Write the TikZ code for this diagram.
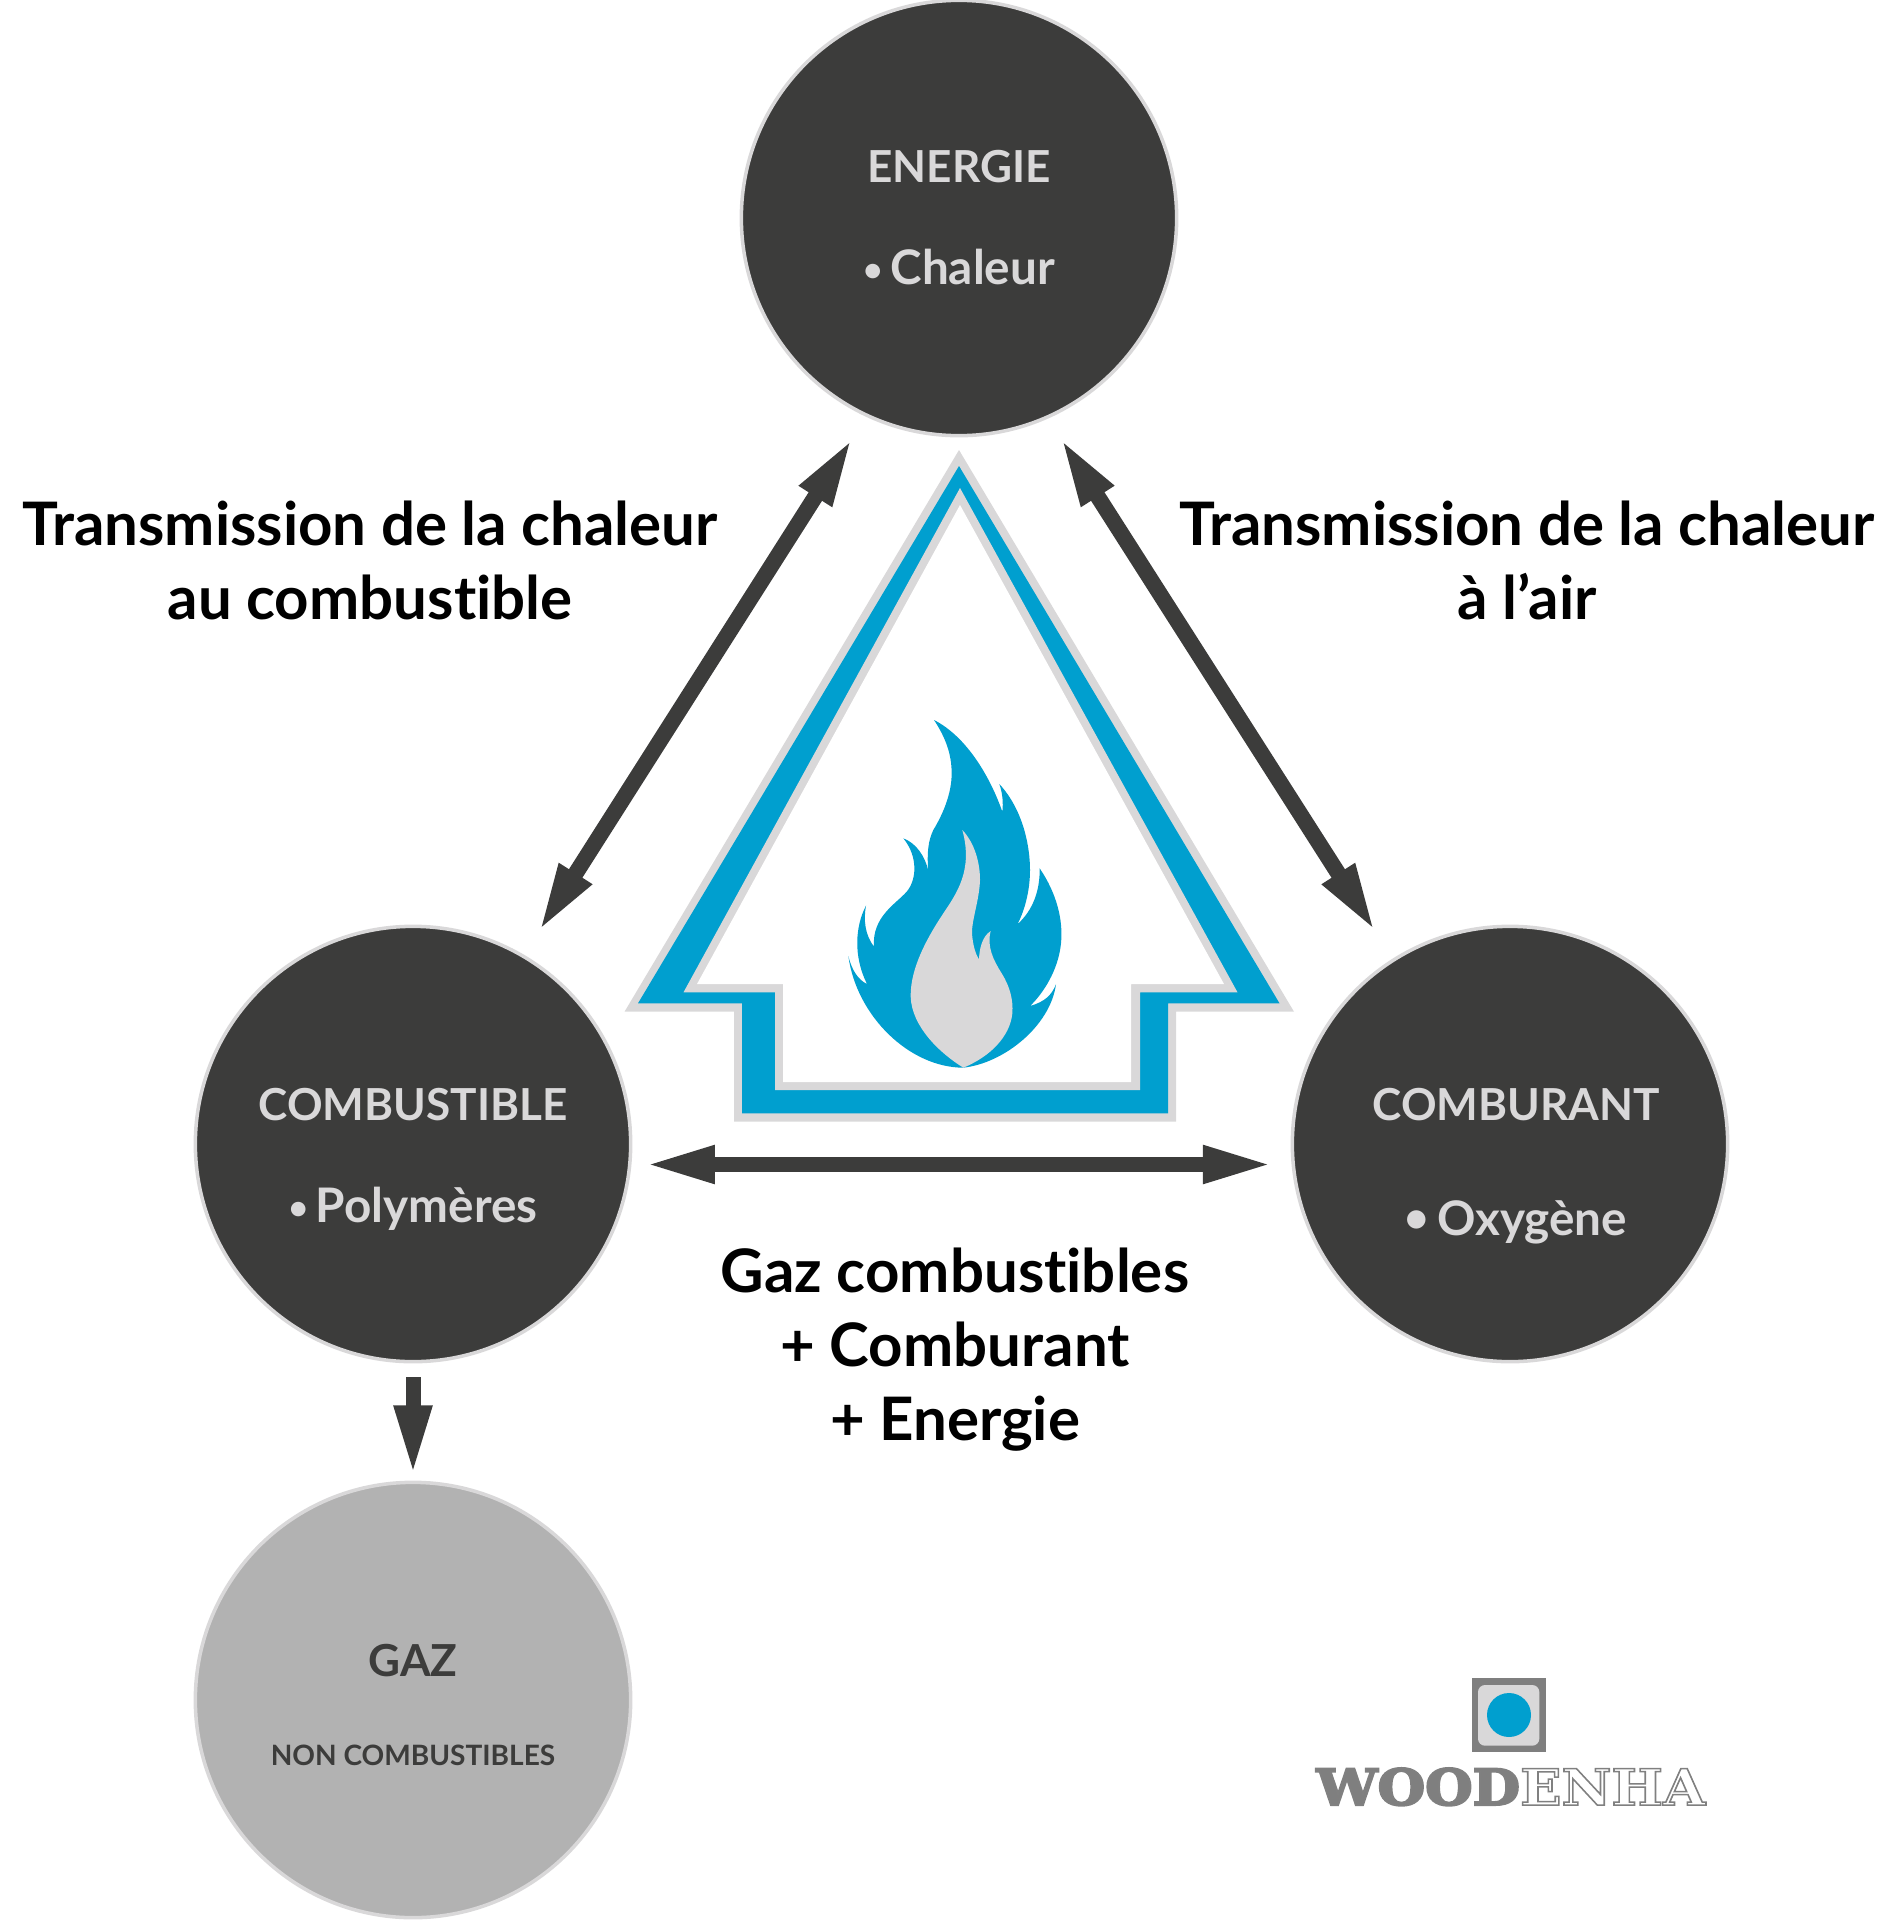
\documentclass[tikz,border=0pt]{standalone}
\usepackage{fontspec}
\setmainfont{Lato}[Ligatures=NoCommon]
\newfontfamily\logofont{DejaVu Serif}
\usetikzlibrary{arrows.meta}
\definecolor{dk}{HTML}{3C3C3B}
\definecolor{lt}{HTML}{D9D8D9}
\definecolor{md}{HTML}{B2B2B2}
\definecolor{bl}{HTML}{009FCF}
\definecolor{lg}{HTML}{7F7F7F}
\newcommand{\outl}[1]{\special{pdf:code q 1 Tr 0.3 w 0.5 G}#1\special{pdf:code 0 Tr Q}}
\newcommand{\heavy}[1]{\special{pdf:code q 2 Tr 0.4 w 0.5 G}#1\special{pdf:code 0 Tr Q}}
\newcommand{\bul}[1]{{\fontsize{#1}{#1}\selectfont\raisebox{1.6pt}{•}}}
\tikzset{
  disc/.style={circle,draw=lt,line width=2pt,fill=dk,minimum size=246.8pt,inner sep=0pt},
  discg/.style={disc,fill=md},
  head/.style={font=\bfseries\fontsize{25}{30}\selectfont,inner sep=0pt},
  sub/.style={font=\bfseries\fontsize{27}{30}\selectfont,inner sep=0pt},
  tl/.style={font=\bfseries\fontsize{34}{42}\selectfont,text=black,align=center,inner sep=0pt},
  dbl/.style={line width=8.5pt,dk,{Triangle[length=40pt,width=19.5pt]}-{Triangle[length=40pt,width=19.5pt]}},
  dia/.style={line width=9pt,dk,{Triangle[length=40pt,width=19.5pt]}-{Triangle[length=40pt,width=19.5pt]}},
  sgl/.style={line width=8.5pt,dk,-{Triangle[length=40pt,width=19.5pt]}}
}
\begin{document}
\begin{tikzpicture}[x=0.5669pt,y=-0.5669pt]
\useasboundingbox (0,0) rectangle (1898,1920);
% house
\fill[lt] (959,450)--(1294,1011.7)--(1176,1011.7)--(1176,1121.7)--(734,1121.7)--(734,1011.7)--(624.5,1011.7)--cycle;
\fill[bl] (959,466)--(1279.5,1003.3)--(1168,1003.3)--(1168,1113.3)--(742,1113.3)--(742,1003.3)--(638,1003.3)--cycle;
\fill[lt] (960,488)--(1237.5,992.3)--(1140,992.3)--(1140,1090)--(775,1090)--(775,992.3)--(683.5,992.3)--cycle;
\fill[white] (960,505)--(1224,984)--(1131,984)--(1131,1082)--(783,1082)--(783,984)--(697,984)--cycle;
% flame
\begin{scope}[shift={(800,680)},x=0.18897pt,y=-0.18897pt]
\fill[bl] (402,120) .. controls (500,170) and (570,290) .. (607,395)
 .. controls (610,370) and (608,340) .. (598,312)
 .. controls (670,390) and (690,500) .. (690,570)
 .. controls (690,640) and (670,700) .. (652,733)
 .. controls (700,690) and (720,630) .. (719,565)
 .. controls (770,640) and (790,720) .. (783,790)
 .. controls (775,870) and (730,940) .. (690,978)
 .. controls (735,965) and (755,945) .. (768,913)
 .. controls (750,1040) and (610,1150) .. (490,1163)
 .. controls (330,1163) and (170,1010) .. (145,828)
 .. controls (155,870) and (175,900) .. (201,912)
 .. controls (160,830) and (165,740) .. (198,677)
 .. controls (190,720) and (195,765) .. (222,800)
 .. controls (215,710) and (290,670) .. (320,635)
 .. controls (350,600) and (355,530) .. (310,475)
 .. controls (350,490) and (375,530) .. (385,572)
 .. controls (380,520) and (385,480) .. (400,450)
 .. controls (430,400) and (455,340) .. (455,280)
 .. controls (455,220) and (435,170) .. (402,120) -- cycle;
\fill[lt] (487,450) .. controls (525,490) and (540,550) .. (540,600)
 .. controls (538,660) and (515,720) .. (516,760)
 .. controls (518,790) and (525,820) .. (537,838)
 .. controls (538,810) and (545,770) .. (572,753)
 .. controls (560,800) and (580,840) .. (605,880)
 .. controls (630,920) and (640,960) .. (637,1000)
 .. controls (630,1070) and (570,1130) .. (490,1163)
 .. controls (420,1120) and (335,1040) .. (332,950)
 .. controls (330,860) and (390,760) .. (430,700)
 .. controls (470,640) and (520,570) .. (487,450) -- cycle;
\end{scope}
% discs
\node[disc] (energie) at (959,218) {};
\node[disc] (combustible) at (413,1144) {};
\node[disc] (comburant) at (1510,1144) {};
\node[discg] (gaz) at (413,1700) {};
% disc labels
\node[head,text=lt] (t1) at (959,167) {ENERGIE};
\node[sub,text=lt] (t2) at (959,267) {\bul{19}\,Chaleur};
\node[head,text=lt] (t3) at (413,1105) {COMBUSTIBLE};
\node[sub,text=lt] (t4) at (413,1209) {\bul{19}\,Polymères};
\node[head,text=lt] (t5) at (1516,1105) {COMBURANT};
\node[sub,text=lt] (t6) at (1516,1222) {\bul{24}\,Oxygène};
\node[head,text=dk] (t7) at (413,1661) {GAZ};
\node[font=\bfseries\fontsize{15.9}{20}\selectfont,text=dk,inner sep=0pt] (t8) at (413,1755) {NON COMBUSTIBLES};
% text labels
\node[tl] (l1) at (370,560) {Transmission de la chaleur\\au combustible};
\node[tl] (l2) at (1527,560) {Transmission de la chaleur\\à l’air};
\node[tl] (l3) at (955,1350) {Gaz combustibles\\+ Comburant\\+ Energie};
% connectors
\coordinate (a1) at (853.2,437); \coordinate (a2) at (537.8,933);
\coordinate (b1) at (1059.8,437); \coordinate (b2) at (1376.2,933);
\coordinate (c1) at (644.4,1164.5); \coordinate (c2) at (1273.4,1164.5);
\coordinate (d1) at (413,1377); \coordinate (d2) at (413,1476);
\draw[dia] (a1) -- (a2);
\draw[dia] (b1) -- (b2);
\draw[dbl] (c1) -- (c2);
\draw[sgl] (d1) -- (d2);
% logo
\fill[lg] (1471.7,1677.7) rectangle (1545.7,1751.7);
\fill[lt,rounded corners=4pt] (1478,1685) rectangle (1539.3,1745.7);
\fill[bl] (1509,1715) circle[radius=22];
\node[inner sep=0pt,anchor=base west,text=lg] (logo) at (1316,1805) {\resizebox{220.5pt}{21pt}{\logofont\bfseries\heavy{WOOD}\outl{ENHA}}};
\end{tikzpicture}
\end{document}
